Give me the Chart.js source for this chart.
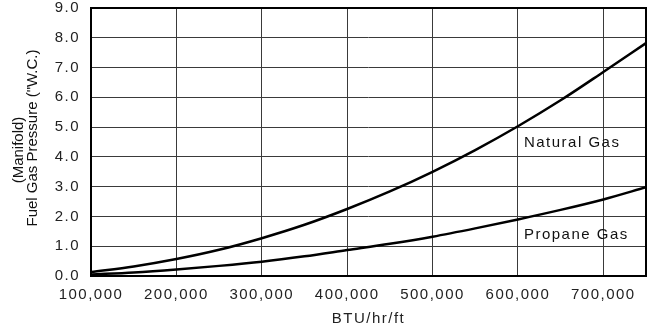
<!DOCTYPE html>
<html>
<head>
<meta charset="utf-8">
<script src="https://cdn.jsdelivr.net/npm/chart.js@4.4.0/dist/chart.umd.min.js"></script>
<style>
    html, body { margin: 0; padding: 0; background: #fff; }
    #wrap { width: 648px; height: 328px; }
</style>
</head>
<body>
<div id="wrap"><canvas id="gasChart" width="648" height="328"></canvas></div>
<script>
const btu = [100000, 150000, 200000, 250000, 300000, 350000, 400000, 450000,
             500000, 550000, 600000, 650000, 700000, 750000];
const naturalGas = [0.13, 0.32, 0.57, 0.88, 1.27, 1.72, 2.25, 2.84, 3.5, 4.23, 5.03, 5.9, 6.85, 7.82];
const propaneGas = [0.05, 0.12, 0.22, 0.34, 0.48, 0.66, 0.87, 1.08, 1.32, 1.6, 1.9, 2.22, 2.57, 2.98];
const xTicks = [100000, 200000, 300000, 400000, 500000, 600000, 700000, 750000];
const yTitle = ['(Manifold)', 'Fuel Gas Pressure ("W.C.)'];

const font = "'Liberation Sans', Arial, sans-serif";

function points(ys) {
    return btu.map((x, i) => ({ x: x, y: ys[i] }));
}

// the reference text is a little wide, so space the letters out
const spacingPlugin = {
    id: 'spacing',
    beforeLayout(chart) { chart.ctx.letterSpacing = '1.5px'; },
    beforeDraw(chart) { chart.ctx.letterSpacing = '1.5px'; }
};

// frame round the plot, the two curve labels and the y title
const framePlugin = {
    id: 'frame',
    afterDraw(chart) {
        const ctx = chart.ctx;
        const a = chart.chartArea;
        const xs = chart.scales.x, ys = chart.scales.y;
        ctx.save();
        ctx.strokeStyle = '#000';
        ctx.lineWidth = 2;
        ctx.strokeRect(a.left, a.top, a.right - a.left, a.bottom - a.top);

        ctx.fillStyle = '#111';
        ctx.font = '15px ' + font;
        ctx.textAlign = 'left';
        ctx.textBaseline = 'middle';
        ctx.fillText('Natural Gas', xs.getPixelForValue(607000), ys.getPixelForValue(4.46));
        ctx.fillText('Propane Gas', xs.getPixelForValue(607000), ys.getPixelForValue(1.38));

        ctx.letterSpacing = '0px';
        ctx.font = '15px ' + font;
        ctx.textAlign = 'center';
        ctx.translate(19, 150);
        ctx.rotate(-Math.PI / 2);
        ctx.fillText(yTitle[0], 0, 0);
        ctx.rotate(Math.PI / 2);
        ctx.translate(14, -12);
        ctx.rotate(-Math.PI / 2);
        ctx.fillText(yTitle[1], 0, 0);
        ctx.restore();
    }
};

new Chart(document.getElementById('gasChart'), {
    type: 'line',
    data: {
        datasets: [{
            label: 'Natural Gas',
            data: points(naturalGas),
            borderColor: '#000',
            borderWidth: 2.5,
            pointRadius: 0,
            cubicInterpolationMode: 'monotone',
            fill: false
        }, {
            label: 'Propane Gas',
            data: points(propaneGas),
            borderColor: '#000',
            borderWidth: 2.5,
            pointRadius: 0,
            cubicInterpolationMode: 'monotone',
            fill: false
        }]
    },
    options: {
        responsive: false,
        animation: false,
        layout: { padding: { top: 0, right: 2, left: 0, bottom: 0 } },
        plugins: {
            legend: { display: false },
            tooltip: { enabled: false }
        },
        scales: {
            x: {
                type: 'linear',
                min: 100000,
                max: 750000,
                afterBuildTicks: function (scale) {
                    scale.ticks = xTicks.map(v => ({ value: v }));
                },
                afterFit: function (scale) {
                    scale.height = 52;
                    scale.paddingLeft = 0;
                    scale.paddingRight = 0;
                },
                grid: { color: '#3a3a3a', lineWidth: 1, drawTicks: false },
                border: { display: false },
                ticks: {
                    padding: 10,
                    maxRotation: 0,
                    autoSkip: false,
                    color: '#222',
                    font: { family: font, size: 15 },
                    callback: function (v) {
                        return v === 750000 ? '' : v.toLocaleString('en-US');
                    }
                },
                title: {
                    display: true,
                    text: 'BTU/hr/ft',
                    color: '#222',
                    font: { family: font, size: 15 },
                    padding: { top: 1, bottom: 0 }
                }
            },
            y: {
                min: 0,
                max: 9,
                afterFit: function (scale) {
                    scale.width = 91;
                    scale.paddingTop = 8;
                    scale.paddingBottom = 0;
                },
                grid: { color: '#3a3a3a', lineWidth: 1, drawTicks: false },
                border: { display: false },
                ticks: {
                    stepSize: 1,
                    padding: 11,
                    color: '#222',
                    font: { family: font, size: 15 },
                    callback: function (v) { return v.toFixed(1); }
                },
                title: { display: false }
            }
        }
    },
    plugins: [spacingPlugin, framePlugin]
});
</script>
</body>
</html>
